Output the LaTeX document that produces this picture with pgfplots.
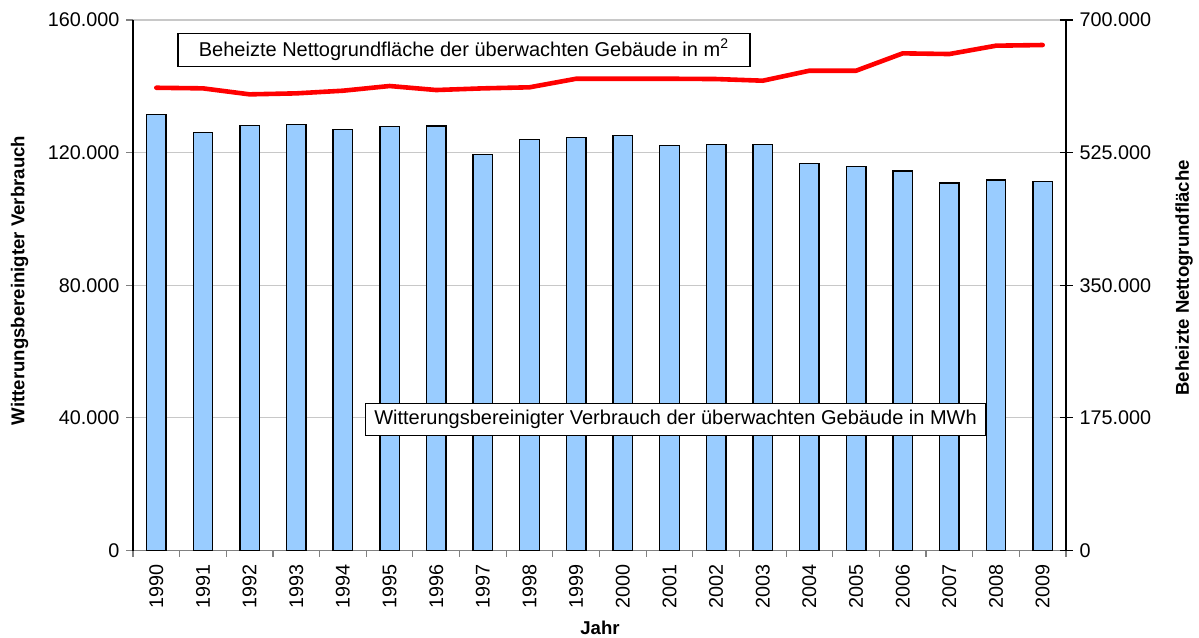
\documentclass[border=0pt]{standalone}
\usepackage{fontspec}
\setmainfont{Liberation Sans}
\usepackage{pgfplots}
\pgfplotsset{compat=1.18}
\definecolor{barblue}{RGB}{153,204,255}
\definecolor{gridgray}{RGB}{200,200,200}
\definecolor{axgray}{RGB}{128,128,128}

\begin{document}
\begin{tikzpicture}
\path[use as bounding box] (-66.5pt,-43.25pt) rectangle (533pt,275.25pt);
% Verbrauch (linke Achse)
\begin{axis}[
    scale only axis,
    width=466.5pt, height=265.25pt,
    xmin=-0.5, xmax=19.5,
    ymin=0, ymax=160000,
    axis y line*=left, axis x line*=bottom,
    x axis line style={axgray, line width=0.8pt},
    y axis line style={black, line width=0.6pt},
    ytick={0,40000,80000,120000,160000},
    scaled y ticks=false,
    /pgf/number format/fixed,
    /pgf/number format/assume math mode=true,
    /pgf/number format/1000 sep={.},
    ymajorgrids, grid style={gridgray, line width=0.6pt},
    tick align=outside, major tick length=3.3pt,
    y tick style={axgray, line width=0.6pt},
    xtick={0,...,19},
    xticklabels={1990,1991,1992,1993,1994,1995,1996,1997,1998,1999,2000,2001,2002,2003,2004,2005,2006,2007,2008,2009},
    major x tick style={draw=none},
    minor xtick={-0.5,0.5,...,19.5},
    minor tick length=3pt,
    minor x tick style={axgray, line width=0.6pt},
    xticklabel style={rotate=90, anchor=east},
    tick label style={font=\fontsize{9.9}{11}\selectfont},
    xlabel={Jahr},
    ylabel={Witterungsbereinigter Verbrauch},
    label style={font=\fontsize{9.3}{11}\selectfont\bfseries},
    xlabel style={at={(axis description cs:0.5005,-0.146)}, anchor=center},
    ylabel style={at={(axis description cs:-0.1214,0.509)}, anchor=center},
    ybar, bar width=9.75pt,
]
\addplot[fill=barblue, draw=black, line width=0.7pt] coordinates {
(0,131560) (1,126000) (2,128200) (3,128400) (4,127000)
(5,127800) (6,128000) (7,119500) (8,124000) (9,124600)
(10,125100) (11,122200) (12,122400) (13,122400) (14,116700)
(15,115800) (16,114500) (17,110800) (18,111800) (19,111200)
};
\node[draw=black, fill=white, line width=0.6pt, minimum width=286pt, minimum height=16.5pt, inner sep=0pt, font=\fontsize{10}{12}\selectfont]
  at (axis description cs:0.3548,0.944) {Beheizte Nettogrundfläche der überwachten Gebäude in m\textsuperscript{2}};
\node[draw=black, fill=white, line width=0.6pt, minimum width=310pt, minimum height=16pt, inner sep=0pt, font=\fontsize{10}{12}\selectfont]
  at (axis description cs:0.5815,0.247) {Witterungsbereinigter Verbrauch der überwachten Gebäude in MWh};
\end{axis}
% Nettogrundflaeche (rechte Achse)
\begin{axis}[
    scale only axis,
    width=466.5pt, height=265.25pt,
    xmin=-0.5, xmax=19.5,
    ymin=0, ymax=700000,
    axis y line*=right, axis x line=none,
    y axis line style={black, line width=0.6pt},
    ytick={0,175000,350000,525000,700000},
    scaled y ticks=false,
    /pgf/number format/fixed,
    /pgf/number format/assume math mode=true,
    /pgf/number format/1000 sep={.},
    tick align=center, major tick length=6.5pt,
    y tick style={black, line width=0.6pt},
    tick label style={font=\fontsize{9.9}{11}\selectfont},
    ylabel={Beheizte Nettogrundfläche},
    label style={font=\fontsize{9.3}{11}\selectfont\bfseries},
    ylabel style={at={(axis description cs:1.1265,0.514)}, anchor=center},
]
\addplot[red, line width=2.3pt, line join=round, line cap=round] coordinates {
(0,610600) (1,609800) (2,601900) (3,603200) (4,606700)
(5,612900) (6,607600) (7,609800) (8,611200) (9,622500)
(10,622500) (11,622500) (12,622100) (13,619900) (14,633100)
(15,633100) (16,656000) (17,655100) (18,666100) (19,667000)
};
\end{axis}
\end{tikzpicture}
\end{document}
